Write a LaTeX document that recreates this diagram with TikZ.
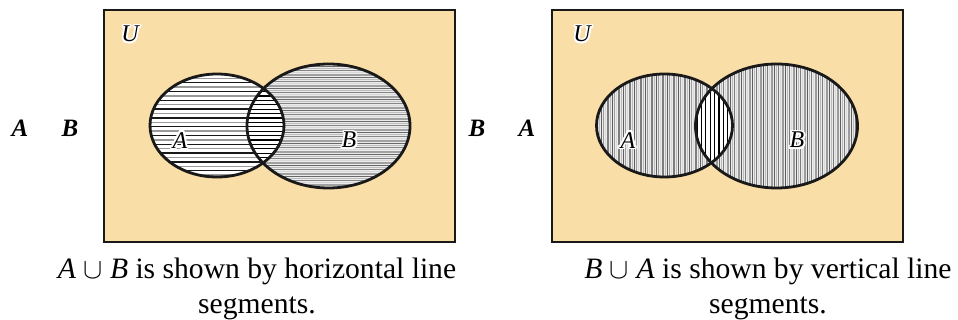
\documentclass[tikz,border=0pt]{standalone}
\usepackage{fontspec}
\setmainfont{Liberation Serif}
\usepackage{contour}
\contourlength{0.9pt}
\usetikzlibrary{calc}
\definecolor{venntan}{RGB}{249,222,168}
\tikzset{
  panel/.style={draw=black!90, fill=venntan, line width=1.3pt},
  setrim/.style={draw=black!90, line width=1.4pt},
  darkstripe/.style={black!90, line width=0.7pt},
  lightstripe/.style={black!40, line width=0.7pt},
  crossstripe/.style={black, line width=0.6pt},
  lbl/.style={font=\fontsize{12}{14}\selectfont\itshape, inner sep=0pt},
  outlbl/.style={font=\fontsize{12.5}{14}\selectfont\bfseries\itshape, inner sep=0pt},
  caption/.style={font=\fontsize{14.8}{17.5}\selectfont, align=center, inner sep=0pt},
}

\begin{document}
\begin{tikzpicture}[x=0.5pt, y=-0.5pt]
  \useasboundingbox (0,0) rectangle (958,320);

  % ---- left: horizontal segments
  \draw[panel] (104,10) rectangle (455,242);
  \coordinate (lA) at (217,125.5);
  \coordinate (lB) at (328.5,126);
  \fill[white] (lA) ellipse [x radius=33.5pt, y radius=25.75pt];
  \fill[black!8] (lB) ellipse [x radius=40.75pt, y radius=31pt];
  \begin{scope}
    \clip (lA) ellipse [x radius=33.5pt, y radius=25.75pt];
    \foreach \y [count=\i] in {74,78.4,...,178}
      {\ifodd\i \draw[darkstripe] (150,\y) -- (285,\y); \else \draw[lightstripe] (150,\y) -- (285,\y); \fi}
  \end{scope}
  \begin{scope}
    \clip (lB) ellipse [x radius=40.75pt, y radius=31pt];
    \foreach \y [count=\i] in {64,66.2,...,189}
      {\pgfmathsetmacro\tone{int(15+11*mod(\i*7,5))}
       \draw[black!\tone, line width=0.55pt] (246,\y) -- (411,\y);}
  \end{scope}
  \begin{scope}
    \clip (lA) ellipse [x radius=33.5pt, y radius=25.75pt];
    \clip (lB) ellipse [x radius=40.75pt, y radius=31pt];
    \fill[white] (240,60) rectangle (290,190);
    \foreach \y in {74,78.4,...,178}
      \draw[crossstripe] (240,\y) -- (290,\y);
  \end{scope}
  \draw[setrim] (lA) ellipse [x radius=33.5pt, y radius=25.75pt];
  \draw[setrim] (lB) ellipse [x radius=40.75pt, y radius=31pt];
  \node[lbl] (lU) at (130,35) {\contour{white}{U}};
  \node[lbl] (lAl) at (180,141) {\contour{white}{A}};
  \node[lbl] (lBl) at (349,141) {\contour{white}{B}};
  \node[outlbl] (oA1) at (20,128) {A};
  \node[outlbl] (oB1) at (70,128) {B};
  \node[caption] (cap1) at (257,289) {\textit{A} $\cup$ \textit{B} is shown by horizontal line\\segments.};

  % ---- right: vertical segments
  \draw[panel] (552,10) rectangle (903,242);
  \coordinate (rA) at (664.5,125.5);
  \coordinate (rB) at (776.5,126);
  \fill[black!8] (rA) ellipse [x radius=34pt, y radius=25.75pt];
  \fill[black!8] (rB) ellipse [x radius=40.5pt, y radius=31pt];
  \begin{scope}
    \clip (rA) ellipse [x radius=34pt, y radius=25.75pt];
    \foreach \x [count=\i] in {597,599.2,...,733}
      {\pgfmathsetmacro\tone{int(15+12*mod(\i*3,5))}
       \draw[black!\tone, line width=0.55pt] (\x,73) -- (\x,178);}
  \end{scope}
  \begin{scope}
    \clip (rB) ellipse [x radius=40.5pt, y radius=31pt];
    \foreach \x [count=\i] in {695,697.2,...,859}
      {\pgfmathsetmacro\tone{int(15+12*mod(\i*7,5))}
       \draw[black!\tone, line width=0.55pt] (\x,63) -- (\x,189);}
  \end{scope}
  \begin{scope}
    \clip (rA) ellipse [x radius=34pt, y radius=25.75pt];
    \clip (rB) ellipse [x radius=40.5pt, y radius=31pt];
    \fill[white] (690,60) rectangle (740,190);
    \foreach \x in {697,701.4,...,735}
      \draw[crossstripe] (\x,60) -- (\x,190);
  \end{scope}
  \draw[setrim] (rA) ellipse [x radius=34pt, y radius=25.75pt];
  \draw[setrim] (rB) ellipse [x radius=40.5pt, y radius=31pt];
  \node[lbl] (rU) at (582,35) {\contour{white}{U}};
  \node[lbl] (rAl) at (628,141) {\contour{white}{A}};
  \node[lbl] (rBl) at (797,141) {\contour{white}{B}};
  \node[outlbl] (oB2) at (477,128) {B};
  \node[outlbl] (oA2) at (527,128) {A};
  \node[caption] (cap2) at (768,289) {\textit{B} $\cup$ \textit{A} is shown by vertical line\\segments.};
\end{tikzpicture}
\end{document}
